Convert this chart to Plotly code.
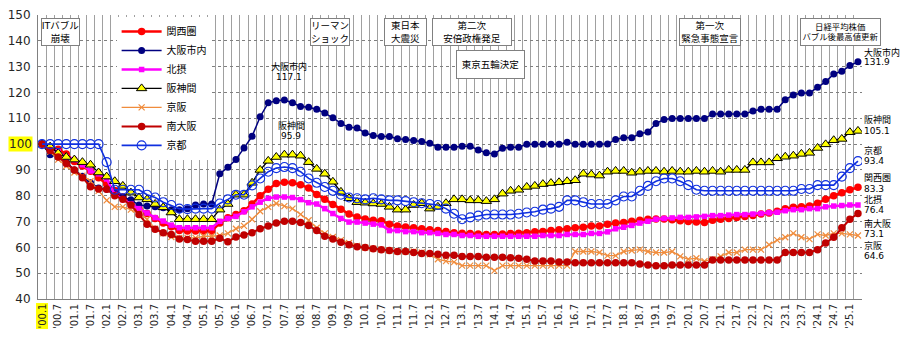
import plotly.graph_objects as go

# ---------------- data (quarterly, '00.1 = 100) ----------------
tick_labels = ["'00.1", "'00.7", "'01.1", "'01.7", "'02.1", "'02.7", "'03.1", "'03.7", "'04.1", "'04.7",
               "'05.1", "'05.7", "'06.1", "'06.7", "'07.1", "'07.7", "'08.1", "'08.7", "'09.1", "'09.7",
               "'10.1", "'10.7", "'11.1", "'11.7", "'12.1", "'12.7", "'13.1", "'13.7", "'14.1", "'14.7",
               "'15.1", "'15.7", "'16.1", "'16.7", "'17.1", "'17.7", "'18.1", "'18.7", "'19.1", "'19.7",
               "'20.1", "'20.7", "'21.1", "'21.7", "'22.1", "'22.7", "'23.1", "'23.7", "'24.1", "'24.7",
               "'25.1"]

kansai = [100, 98.8, 98.0, 96.2, 93.3, 91.5, 89.5, 87.0, 84.5, 82.0,
          79.5, 77.2, 75.0, 73.1, 71.2, 69.4, 68.0, 66.5, 66.3, 66.3,
          66.3, 66.3, 69.4, 71.5, 72.7, 74.2, 76.8, 80.0, 82.5, 84.7,
          85.2, 85.0, 84.3, 83.0, 80.5, 78.6, 76.6, 74.8, 72.9, 71.8,
          71.0, 70.5, 70.3, 69.0, 68.3, 67.9, 67.6, 67.2, 66.8, 66.5,
          66.1, 65.7, 65.5, 65.4, 65.2, 65.0, 65.0, 65.2, 65.4, 65.5,
          65.7, 66.0, 66.1, 66.5, 66.8, 67.2, 67.6, 67.8, 68.3, 68.3,
          69.0, 69.4, 69.6, 70.1, 70.5, 70.9, 71.0, 71.0, 70.7, 70.3,
          70.0, 69.8, 69.6, 70.5, 70.9, 71.2, 71.6, 72.0, 72.3, 72.9,
          73.3, 74.0, 75.0, 75.5, 75.7, 76.0, 77.1, 78.6, 80.0, 81.2,
          82.3, 83.3]

osaka = [100, 95.9, 95.0, 93.0, 90.0, 87.5, 85.0, 83.0, 82.5, 81.0,
         79.5, 78.4, 76.4, 76.0, 75.7, 75.3, 74.6, 74.6, 75.0, 76.4,
         76.8, 76.8, 88.5, 91.0, 94.0, 98.5, 103.0, 110.6, 116.0, 116.8,
         117.1, 116.0, 114.6, 114.3, 113.5, 112.0, 110.2, 108.0, 106.5, 106.2,
         104.3, 103.3, 102.9, 102.9, 102.1, 101.8, 101.4, 101.0, 100.3, 98.8,
         98.8, 98.8, 99.2, 99.2, 97.7, 96.6, 96.2, 98.4, 98.8, 98.8,
         99.9, 99.9, 99.9, 99.9, 99.9, 100.7, 99.9, 99.9, 99.9, 99.9,
         100.0, 101.8, 102.5, 102.5, 104.0, 104.7, 108.0, 109.5, 109.9, 109.9,
         109.9, 109.9, 109.9, 111.7, 111.7, 111.7, 111.7, 111.7, 112.8, 113.5,
         113.5, 113.5, 117.2, 119.0, 119.8, 119.8, 122.0, 124.2, 127.1, 128.2,
         130.4, 131.9]

hokusetsu = [100, 98.5, 97.0, 95.0, 94.0, 92.0, 89.6, 88.5, 86.5, 80.5,
             78.5, 76.8, 75.0, 73.3, 71.5, 70.2, 68.6, 67.6, 67.6, 67.6,
             67.6, 67.6, 70.1, 71.2, 72.0, 73.8, 75.7, 77.5, 79.0, 79.5,
             79.5, 79.3, 78.5, 77.3, 76.8, 75.0, 73.1, 71.2, 69.8, 69.8,
             69.4, 69.0, 68.7, 66.5, 66.5, 66.1, 66.1, 65.7, 65.7, 65.4,
             65.0, 65.0, 64.6, 64.6, 64.3, 64.3, 64.3, 64.3, 64.3, 64.3,
             64.3, 64.3, 64.6, 64.6, 64.6, 65.0, 65.0, 65.0, 65.4, 65.4,
             66.0, 67.2, 67.8, 68.5, 69.4, 70.1, 70.9, 71.2, 71.4, 71.6,
             71.6, 71.8, 72.0, 72.3, 72.3, 72.5, 72.7, 72.7, 72.9, 73.1,
             73.4, 73.6, 74.2, 74.6, 74.6, 75.0, 75.0, 75.7, 76.0, 76.2,
             76.4, 76.4]

hanshin = [100, 99.0, 96.5, 95.0, 94.0, 93.0, 92.0, 89.0, 87.4, 85.6,
           83.8, 81.2, 79.3, 78.6, 76.8, 75.5, 73.5, 70.9, 70.9, 70.9,
           70.9, 70.9, 74.6, 76.8, 80.4, 80.4, 85.0, 90.0, 93.5, 95.0,
           95.9, 95.9, 95.5, 93.0, 90.4, 88.5, 85.4, 81.5, 79.0, 77.5,
           77.3, 77.0, 76.8, 75.7, 74.6, 74.6, 76.4, 77.1, 75.0, 75.7,
           77.1, 78.6, 78.6, 78.2, 78.2, 77.9, 78.6, 80.8, 81.9, 82.3,
           83.4, 83.8, 84.5, 84.9, 85.2, 85.6, 86.0, 88.5, 88.2, 87.8,
           89.3, 89.6, 89.6, 88.9, 89.3, 89.6, 89.6, 89.3, 89.6, 89.3,
           89.3, 89.6, 89.3, 89.6, 89.3, 90.0, 90.0, 90.0, 92.9, 92.9,
           92.9, 94.5, 95.1, 95.5, 96.2, 96.6, 98.5, 99.9, 101.5, 102.0,
           104.6, 105.1]

keihan = [100, 97.0, 94.0, 91.5, 89.0, 87.8, 85.6, 81.9, 78.2, 75.7,
          75.7, 74.6, 73.1, 70.9, 67.2, 65.4, 64.0, 63.7, 63.7, 63.7,
          64.3, 64.3, 64.6, 65.4, 67.2, 68.3, 70.9, 74.0, 75.7, 77.0,
          76.0, 75.0, 72.8, 70.5, 67.6, 65.4, 64.0, 62.8, 61.7, 60.6,
          59.9, 59.5, 59.1, 58.8, 58.4, 58.4, 58.4, 58.0, 57.3, 55.4,
          54.7, 54.3, 52.9, 52.9, 52.9, 52.9, 51.0, 52.9, 52.9, 52.9,
          52.9, 52.9, 52.9, 52.9, 52.9, 52.9, 58.4, 58.4, 58.4, 58.0,
          56.8, 56.8, 58.4, 58.8, 59.1, 58.4, 58.0, 58.0, 58.4, 56.5,
          55.4, 55.8, 54.7, 55.4, 56.5, 58.0, 58.0, 59.1, 59.1, 59.1,
          61.0, 62.8, 63.9, 65.4, 63.9, 63.2, 65.0, 64.6, 65.4, 65.4,
          65.0, 64.6]

minami = [100, 97.5, 95.0, 92.5, 90.0, 87.0, 83.5, 82.6, 82.5, 80.0,
          78.6, 76.4, 72.7, 69.0, 67.0, 65.7, 65.0, 63.2, 63.0, 62.4,
          62.4, 62.4, 63.5, 62.2, 64.0, 64.8, 65.7, 67.2, 68.3, 69.4,
          70.1, 70.1, 69.6, 68.5, 66.5, 64.3, 63.2, 62.0, 61.0, 60.2,
          59.9, 59.5, 59.1, 58.8, 58.4, 58.4, 58.0, 57.6, 57.6, 57.3,
          56.9, 56.9, 56.5, 56.5, 56.5, 56.2, 56.2, 56.2, 56.0, 55.8,
          55.4, 54.7, 54.7, 54.7, 54.3, 54.3, 54.0, 54.0, 54.0, 54.0,
          54.0, 54.0, 54.0, 54.0, 53.6, 53.2, 52.9, 52.9, 53.2, 53.2,
          53.2, 53.2, 53.2, 55.1, 55.1, 55.1, 55.1, 55.1, 55.1, 55.1,
          55.1, 55.1, 58.0, 58.0, 58.0, 58.0, 59.1, 61.7, 63.9, 67.6,
          70.9, 73.1]

kyoto = [100, 100, 100, 100, 100, 100, 100, 100, 93.0, 82.3,
         82.3, 82.3, 82.3, 80.4, 79.3, 77.5, 76.4, 75.0, 74.8, 75.0,
         75.0, 75.0, 77.0, 78.6, 80.4, 80.4, 84.0, 86.7, 89.3, 90.7,
         91.1, 90.7, 89.3, 86.7, 85.0, 83.4, 81.9, 80.4, 79.3, 79.0,
         78.6, 79.0, 78.6, 78.2, 78.2, 77.9, 77.5, 77.1, 76.8, 76.4,
         75.0, 73.0, 70.9, 71.6, 72.3, 72.7, 72.7, 72.7, 72.7, 73.0,
         73.5, 73.8, 74.6, 75.0, 75.7, 78.2, 78.2, 77.5, 76.8, 76.8,
         76.8, 78.2, 79.7, 79.7, 81.9, 83.8, 85.6, 86.7, 86.7, 85.6,
         84.1, 82.3, 81.9, 81.9, 81.9, 81.9, 81.9, 81.9, 81.9, 81.9,
         81.9, 81.9, 81.9, 81.9, 82.6, 82.6, 84.1, 84.1, 84.1, 87.4,
         90.7, 93.4]

series_names = ["関西圏", "大阪市内", "北摂", "阪神間", "京阪", "南大阪", "京都"]

# ---------------- layout helpers ----------------
W, H = 900, 337
ML, MR, MT, MB = 34, 38, 8, 30
PW, PH = W - ML - MR, H - MT - MB
FONT = "DejaVu Sans, Noto Sans CJK JP, sans-serif"


def px_x(px):
    return (px - ML) / PW


def px_y(py):
    return (H - MB - py) / PH


x = list(range(len(kansai)))
tick_pos = list(range(0, len(kansai), 2))[:len(tick_labels)]
tick_text = [""] + tick_labels[1:]

fig = go.Figure()

styles = [
    (kansai, dict(color="#FF0000", width=2.5), dict(symbol="circle", size=7.5, color="#FF0000")),
    (osaka, dict(color="#000080", width=1.5), dict(symbol="circle", size=7, color="#000080")),
    (hokusetsu, dict(color="#FF00FF", width=2.5), dict(symbol="square", size=5.5, color="#FF00FF")),
    (hanshin, dict(color="#000000", width=1.3),
     dict(symbol="triangle-up", size=9, color="#FFFF00", line=dict(color="#000000", width=1))),
    (keihan, dict(color="#F08C3C", width=1.3),
     dict(symbol="x-thin", size=6, color="#F08C3C", line=dict(color="#F08C3C", width=1.2))),
    (minami, dict(color="#C00000", width=2), dict(symbol="circle", size=7.5, color="#C00000")),
    (kyoto, dict(color="#1030E0", width=1.6),
     dict(symbol="circle-open", size=9, color="#1030E0", line=dict(width=1.1))),
]

for name, (vals, ln, mk) in zip(series_names, styles):
    fig.add_trace(go.Scatter(x=x, y=vals, name=name, mode="lines+markers",
                             line=ln, marker=mk))

annotations = []

# event boxes (left, top, right, bottom in px, font size)
boxes = [
    ("ITバブル<br>崩壊", 37, 12, 76, 40, 9.5),
    ("リーマン<br>ショック", 307, 12, 347, 40, 9.5),
    ("東日本<br>大震災", 382, 12, 425, 40, 9.5),
    ("第二次<br>安倍政権発足", 430, 12, 510, 40, 9.5),
    ("東京五輪決定", 454, 46, 523, 75, 9.5),
    ("第一次<br>緊急事態宣言", 678, 12, 740, 40, 9.5),
    ("日経平均株価<br>バブル後最高値更新", 800, 12, 881, 40, 8.4),
]
for txt, l, t, r, b, fs in boxes:
    annotations.append(dict(text=txt, xref="paper", yref="paper",
                            x=px_x((l + r) / 2), y=px_y((t + b) / 2),
                            xanchor="center", yanchor="middle", showarrow=False,
                            width=r - l - 2, height=b - t - 2, align="center", valign="middle",
                            bgcolor="#FFFFFF", bordercolor="#808080", borderwidth=1, borderpad=0,
                            font=dict(family=FONT, size=fs, color="#000000")))

# value labels (text, x px, y px center, anchor)
labels = [
    ("大阪市内", 286, 62, "center"), ("117.1", 286, 73, "center"),
    ("阪神間", 289, 124, "center"), ("95.9", 288, 135, "center"),
    ("大阪市内", 862, 47, "left"), ("131.9", 862, 58, "left"),
    ("阪神間", 862, 118, "left"), ("105.1", 862, 130, "left"),
    ("京都", 862, 151, "left"), ("93.4", 862, 162, "left"),
    ("関西圏", 862, 180, "left"), ("83.3", 862, 191, "left"),
    ("北摂", 862, 202, "left"), ("76.4", 862, 213, "left"),
    ("南大阪", 862, 228, "left"), ("73.1", 862, 239, "left"),
    ("京阪", 862, 251, "left"), ("64.6", 862, 262, "left"),
]
for txt, lx, ly, anc in labels:
    annotations.append(dict(text=txt, xref="paper", yref="paper", x=px_x(lx), y=px_y(ly),
                            xanchor=anc, yanchor="middle", showarrow=False,
                            font=dict(family=FONT, size=9, color="#000000")))

# highlighted tick labels
annotations.append(dict(text="100", xref="paper", yref="y", x=0, y=100, xanchor="right",
                        yanchor="middle", xshift=-5, showarrow=False, bgcolor="#FFFF00", borderpad=0,
                        font=dict(family=FONT, size=12, color="#262626")))
annotations.append(dict(text=tick_labels[0], xref="x", yref="paper", x=0, y=0, xanchor="center",
                        yanchor="top", yshift=-4, textangle=-90, showarrow=False, bgcolor="#FFFF00",
                        borderpad=0, font=dict(family=FONT, size=10, color="#262626")))

y_ticks = list(range(40, 151, 10))
y_text = ["" if v == 100 else str(v) for v in y_ticks]

fig.update_layout(
    width=W, height=H, margin=dict(l=ML, r=MR, t=MT, b=MB),
    paper_bgcolor="#FFFFFF", plot_bgcolor="#FFFFFF",
    font=dict(family=FONT, color="#262626"),
    showlegend=True,
    legend=dict(x=px_x(113), y=px_y(10), xanchor="left", yanchor="top",
                bgcolor="#FFFFFF", borderwidth=0, font=dict(family=FONT, size=10, color="#000000"),
                tracegroupgap=0, itemwidth=40),
    annotations=annotations,
    xaxis=dict(range=[-0.5, len(kansai) - 0.5], tickmode="array", tickvals=tick_pos, ticktext=tick_text,
               tickangle=-90, showgrid=False, zeroline=False, showline=True, linecolor="#808080",
               linewidth=1, ticks="", tickfont=dict(family=FONT, size=10, color="#262626"),
               minor=dict(tick0=0.5, dtick=1, showgrid=True, gridcolor="#A0A0A0", gridwidth=1)),
    yaxis=dict(range=[40, 150], tickmode="array", tickvals=y_ticks, ticktext=y_text,
               showgrid=True, gridcolor="#7F7F7F", griddash="dot", gridwidth=1, zeroline=False,
               showline=True, linecolor="#808080", linewidth=1, ticks="", ticklabelstandoff=4,
               tickfont=dict(family=FONT, size=12, color="#262626")),
)

fig.write_html("out.html")
